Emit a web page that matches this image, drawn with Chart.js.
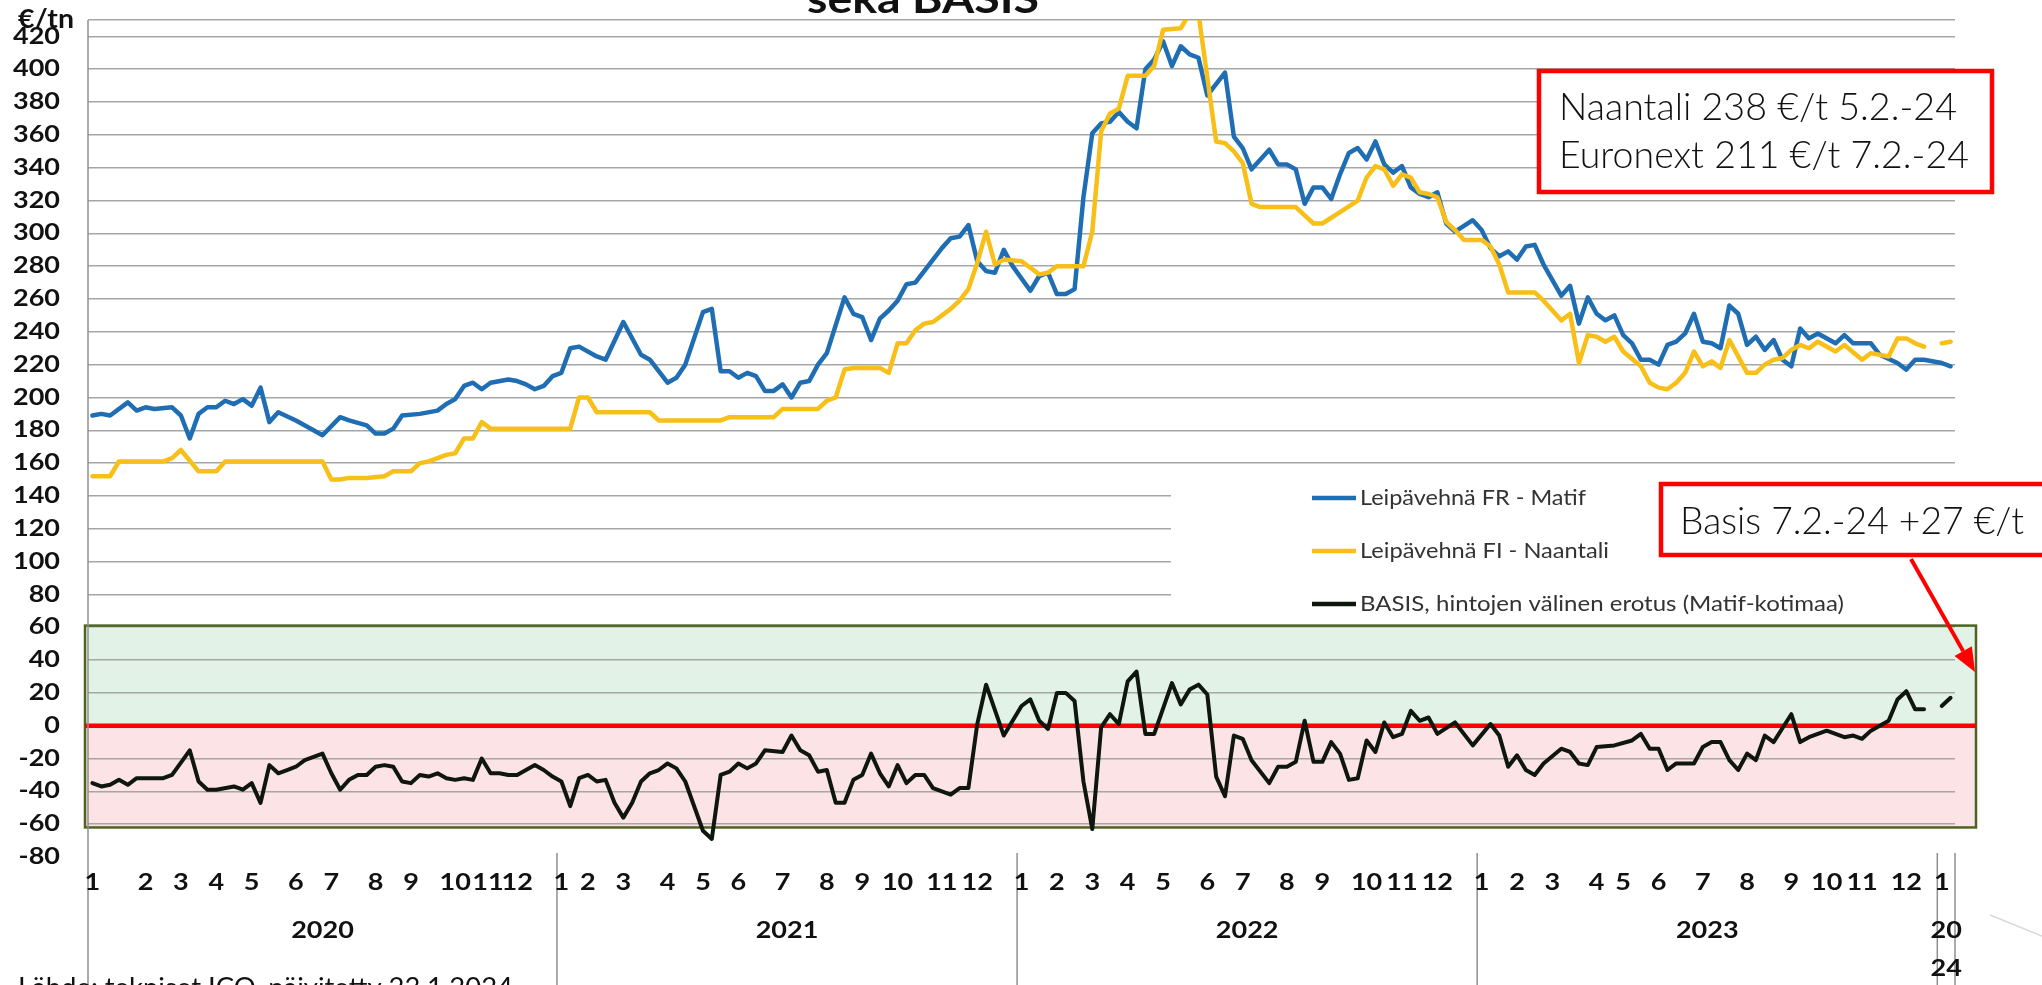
<!DOCTYPE html>
<html lang="fi">
<head>
<meta charset="utf-8">
<title>seka BASIS</title>
<script src="https://cdn.jsdelivr.net/npm/chart.js@4.4.1/dist/chart.umd.min.js"></script>
<style>
    html, body {
        margin: 0;
        padding: 0;
        background: #ffffff;
        overflow: hidden;
    }

    canvas {
        display: block;
    }
</style>
</head>
<body>
<canvas id="basis-chart" width="2042" height="985"></canvas>
<script>
// =========================================================
// DATA (week index 0 = first week of 2020)
// =========================================================

const matifWeeks = [
    0, 1, 2, 4, 5, 6, 7, 9, 10, 11,
    12, 13, 14, 15, 16, 17, 18, 19, 20, 21,
    23, 26, 28, 29, 31, 32, 33, 34, 35, 37,
    39, 40, 41, 42, 43, 44, 45, 47, 48, 49,
    50, 51, 52, 53, 54, 55, 57, 58, 60, 62,
    63, 65, 66, 67, 69, 70, 71, 72, 73, 74,
    75, 76, 77, 78, 79, 80, 81, 82, 83, 85,
    86, 87, 88, 89, 90, 91, 92, 93, 94, 95,
    96, 97, 98, 99, 100, 101, 102, 103, 104, 106,
    107, 108, 109, 110, 111, 112, 113, 114, 115, 116,
    117, 118, 119, 120, 121, 122, 123, 124, 125, 126,
    128, 129, 130, 131, 133, 134, 135, 136, 137, 138,
    139, 140, 141, 142, 143, 144, 145, 146, 147, 148,
    149, 150, 151, 152, 153, 154, 156, 157, 158, 159,
    160, 161, 162, 163, 164, 166, 167, 168, 169, 170,
    171, 172, 173, 174, 175, 176, 177, 178, 179, 180,
    181, 182, 183, 184, 185, 186, 187, 188, 189, 190,
    191, 192, 193, 194, 195, 197, 198, 199, 201, 202,
    204, 205, 206, 207, 209, 210
];

const matifPrices = [
    189, 190, 189, 197, 192, 194, 193, 194, 189, 175,
    190, 194, 194, 198, 196, 199, 195, 206, 185, 191,
    186, 177, 188, 186, 183, 178, 178, 181, 189, 190,
    192, 196, 199, 207, 209, 205, 209, 211, 210, 208,
    205, 207, 213, 215, 230, 231, 225, 223, 246, 226,
    223, 209, 212, 220, 252, 254, 216, 216, 212, 215,
    213, 204, 204, 208, 200, 209, 210, 220, 227, 261,
    251, 249, 235, 248, 253, 259, 269, 270, 277, 284,
    291, 297, 298, 305, 283, 277, 276, 290, 280, 265,
    274, 276, 263, 263, 266, 322, 361, 367, 368, 374,
    368, 364, 400, 406, 417, 402, 414, 409, 407, 384,
    398, 359, 352, 339, 351, 342, 342, 339, 318, 328,
    328, 321, 336, 349, 352, 345, 356, 342, 337, 341,
    328, 324, 322, 325, 306, 301, 308, 302, 291, 286,
    289, 284, 292, 293, 281, 262, 268, 245, 261, 251,
    247, 250, 238, 233, 223, 223, 220, 232, 234, 239,
    251, 234, 233, 230, 256, 251, 232, 237, 229, 235,
    223, 219, 242, 236, 239, 233, 238, 233, 233, 226,
    221, 217, 223, 223, 221, 219
];

const naantaliWeeks = [
    0, 2, 3, 8, 9, 10, 12, 14, 15, 26,
    27, 28, 29, 31, 33, 34, 36, 37, 38, 40,
    41, 42, 43, 44, 45, 54, 55, 56, 57, 63,
    64, 71, 72, 77, 78, 82, 83, 84, 85, 86,
    89, 90, 91, 92, 93, 94, 95, 97, 98, 99,
    100, 101, 102, 103, 105, 106, 107, 108, 109, 112,
    113, 114, 115, 116, 117, 119, 120, 121, 123, 124,
    125, 127, 128, 129, 130, 131, 132, 136, 137, 138,
    139, 141, 143, 144, 145, 146, 147, 148, 149, 150,
    151, 152, 153, 154, 155, 157, 158, 159, 160, 163,
    164, 166, 167, 168, 169, 170, 171, 172, 173, 175,
    176, 177, 178, 179, 180, 181, 182, 183, 184, 185,
    186, 187, 188, 189, 190, 191, 192, 193, 194, 195,
    197, 198, 200, 201, 203, 204, 205, 206, 207, 208,
    209, 210
];

const naantaliPrices = [
    152, 152, 161, 161, 163, 168, 155, 155, 161, 161,
    150, 150, 151, 151, 152, 155, 155, 160, 161, 165,
    166, 175, 175, 185, 181, 181, 200, 200, 191, 191,
    186, 186, 188, 188, 193, 193, 198, 200, 217, 218,
    218, 215, 233, 233, 241, 245, 246, 254, 259, 266,
    282, 301, 281, 284, 283, 279, 275, 276, 280, 280,
    301, 362, 373, 376, 396, 396, 402, 424, 425, 434,
    434, 356, 355, 350, 343, 318, 316, 316, 311, 306,
    306, 313, 320, 334, 341, 339, 329, 336, 334, 325,
    324, 322, 307, 302, 296, 296, 292, 281, 264, 264,
    259, 247, 251, 221, 238, 237, 234, 237, 228, 219,
    209, 206, 205, 209, 215, 228, 219, 222, 218, 235,
    225, 215, 215, 220, 223, 224, 229, 232, 230, 234,
    228, 232, 223, 227, 225, 236, 236, 233, 231, null,
    233, 234
];

const basisWeeks = [
    0, 1, 2, 3, 4, 5, 8, 9, 11, 12,
    13, 14, 16, 17, 18, 19, 20, 21, 22, 23,
    24, 26, 27, 28, 29, 30, 31, 32, 33, 34,
    35, 36, 37, 38, 39, 40, 41, 42, 43, 44,
    45, 46, 47, 48, 50, 51, 52, 53, 54, 55,
    56, 57, 58, 59, 60, 61, 62, 63, 64, 65,
    66, 67, 69, 70, 71, 72, 73, 74, 75, 76,
    78, 79, 80, 81, 82, 83, 84, 85, 86, 87,
    88, 89, 90, 91, 92, 93, 94, 95, 97, 98,
    99, 100, 101, 103, 104, 105, 106, 107, 108, 109,
    110, 111, 112, 113, 114, 115, 116, 117, 118, 119,
    120, 122, 123, 124, 125, 126, 127, 128, 129, 130,
    131, 133, 134, 135, 136, 137, 138, 139, 140, 141,
    142, 143, 144, 145, 146, 147, 148, 149, 150, 151,
    152, 154, 156, 158, 159, 160, 161, 162, 163, 164,
    166, 167, 168, 169, 170, 172, 174, 175, 176, 177,
    178, 179, 181, 182, 183, 184, 185, 186, 187, 188,
    189, 190, 192, 193, 194, 196, 198, 199, 200, 201,
    203, 204, 205, 206, 207, 208, 209, 210
];

const basisValues = [
    -35, -37, -36, -33, -36, -32, -32, -30, -15, -34,
    -39, -39, -37, -39, -35, -47, -24, -29, -27, -25,
    -21, -17, -29, -39, -33, -30, -30, -25, -24, -25,
    -34, -35, -30, -31, -29, -32, -33, -32, -33, -20,
    -29, -29, -30, -30, -24, -27, -31, -34, -49, -32,
    -30, -34, -33, -47, -56, -47, -34, -29, -27, -23,
    -26, -34, -64, -69, -30, -28, -23, -26, -23, -15,
    -16, -6, -15, -18, -28, -27, -47, -47, -33, -30,
    -17, -29, -37, -24, -35, -30, -30, -38, -42, -38,
    -38, 1, 25, -6, 3, 12, 16, 3, -2, 20,
    20, 15, -34, -63, -1, 7, 1, 27, 33, -5,
    -5, 26, 13, 22, 25, 19, -31, -43, -6, -8,
    -21, -35, -25, -25, -22, 3, -22, -22, -10, -17,
    -33, -32, -9, -16, 2, -7, -5, 9, 3, 5,
    -5, 2, -12, 1, -6, -25, -18, -27, -30, -23,
    -14, -16, -23, -24, -13, -12, -9, -5, -14, -14,
    -27, -23, -23, -13, -10, -10, -21, -27, -17, -21,
    -6, -10, 7, -10, -7, -3, -7, -6, -8, -3,
    3, 16, 21, 10, 10, null, 12, 17
];

const priceTicks = [
    -80, -60, -40, -20, 0, 20, 40, 60, 80, 100, 120, 140, 160, 180, 200,
    220, 240, 260, 280, 300, 320, 340, 360, 380, 400, 420
];

const monthLabels = [
    "1", "2", "3", "4", "5", "6", "7", "8", "9", "10", "11", "12",
    "1", "2", "3", "4", "5", "6", "7", "8", "9", "10", "11", "12",
    "1", "2", "3", "4", "5", "6", "7", "8", "9", "10", "11", "12",
    "1", "2", "3", "4", "5", "6", "7", "8", "9", "10", "11", "12",
    "1"
];

const monthLabelWeeks = [
    0, 6, 10, 14, 18, 23, 27, 32, 36, 41, 44.7, 48,
    53, 56, 60, 65, 69, 73, 78, 83, 87, 91, 96, 100,
    105, 109, 113, 117, 121, 126, 130, 135, 139, 144, 148, 152,
    157, 161, 165, 170, 173, 177, 182, 187, 192, 196, 200, 205,
    209
];

const yearLabels = ["2020", "2021", "2022", "2023", "2024"];
const yearBoundaries = [-0.5, 52.5, 104.5, 156.5, 208.5, 210.5];

const seriesNames = [
    "Leipävehnä FR - Matif",
    "Leipävehnä FI - Naantali",
    "BASIS, hintojen välinen erotus (Matif-kotimaa)"
];

const seriesColors = ["#1f6db3", "#f7bf17", "#0e160e"];

const basisBandTop = 61;
const basisBandBottom = -62;

// =========================================================
// HELPERS
// =========================================================

function toPoints(weeks, values) {
    const points = [];

    for (let index = 0; index < weeks.length; index++) {
        points.push({ x: weeks[index], y: values[index] });
    }

    return points;
}

function drawStretched(ctx, text, x, y, stretch, align) {
    const width = ctx.measureText(text).width * stretch;
    let left = x;

    if (align === "right") {
        left = x - width;
    } else if (align === "center") {
        left = x - width / 2;
    }

    ctx.save();
    ctx.translate(left, y);
    ctx.scale(stretch, 1);
    ctx.textAlign = "left";
    ctx.fillText(text, 0, 0);
    ctx.restore();
}

function drawFitted(ctx, text, x, y, width) {
    const stretch = width / ctx.measureText(text).width;
    drawStretched(ctx, text, x, y, stretch, "left");
}

function drawLine(ctx, x1, y1, x2, y2, color, width) {
    ctx.save();
    ctx.strokeStyle = color;
    ctx.lineWidth = width;
    ctx.beginPath();
    ctx.moveTo(x1, y1);
    ctx.lineTo(x2, y2);
    ctx.stroke();
    ctx.restore();
}

function drawArrow(ctx, x1, y1, x2, y2) {
    const angle = Math.atan2(y2 - y1, x2 - x1);
    const headLength = 24;
    const headWidth = 10;

    const baseX = x2 - Math.cos(angle) * headLength;
    const baseY = y2 - Math.sin(angle) * headLength;

    drawLine(ctx, x1, y1, baseX, baseY, "#ff0000", 4);

    ctx.save();
    ctx.fillStyle = "#ff0000";
    ctx.beginPath();
    ctx.moveTo(x2, y2);
    ctx.lineTo(baseX + Math.sin(angle) * headWidth, baseY - Math.cos(angle) * headWidth);
    ctx.lineTo(baseX - Math.sin(angle) * headWidth, baseY + Math.cos(angle) * headWidth);
    ctx.closePath();
    ctx.fill();
    ctx.restore();
}

function drawNoteBox(ctx, left, top, right, bottom) {
    ctx.save();
    ctx.fillStyle = "#ffffff";
    ctx.fillRect(left, top, right - left, bottom - top);
    ctx.strokeStyle = "#ff0000";
    ctx.lineWidth = 4.5;
    ctx.strokeRect(left, top, right - left, bottom - top);
    ctx.restore();
}

// =========================================================
// DECORATION PLUGIN
// =========================================================

const basisDecorations = {
    id: "basisDecorations",

    beforeDraw(chart) {
        const ctx = chart.ctx;
        const area = chart.chartArea;
        const y = chart.scales.y;

        ctx.save();
        ctx.fillStyle = "#ffffff";
        ctx.fillRect(0, 0, chart.width, chart.height);

        const bandLeft = area.left - 3;
        const bandRight = area.right + 21;
        const zeroY = y.getPixelForValue(0);

        ctx.fillStyle = "#e3f2e6";
        ctx.fillRect(bandLeft, y.getPixelForValue(basisBandTop), bandRight - bandLeft, zeroY - y.getPixelForValue(basisBandTop));

        ctx.fillStyle = "#fce3e6";
        ctx.fillRect(bandLeft, zeroY, bandRight - bandLeft, y.getPixelForValue(basisBandBottom) - zeroY);
        ctx.restore();
    },

    beforeDatasetsDraw(chart) {
        const ctx = chart.ctx;
        const area = chart.chartArea;
        const y = chart.scales.y;

        // legend sits on a white box that hides the grid lines
        ctx.save();
        ctx.fillStyle = "#ffffff";
        ctx.fillRect(1171, 468, 800, 154);
        ctx.restore();

        const legendRows = [498, 551, 604];
        const legendWidths = [226, 249, 484];

        ctx.save();
        ctx.font = "22px Lato";
        ctx.textBaseline = "middle";
        ctx.fillStyle = "#333333";

        for (let index = 0; index < seriesNames.length; index++) {
            drawLine(ctx, 1312, legendRows[index], 1356, legendRows[index], seriesColors[index], 4.5);
            drawFitted(ctx, seriesNames[index], 1360, legendRows[index], legendWidths[index]);
        }

        ctx.restore();

        // band frame and zero line
        const bandLeft = area.left - 3;
        const bandRight = area.right + 21;
        const bandTopY = y.getPixelForValue(basisBandTop);
        const bandBottomY = y.getPixelForValue(basisBandBottom);

        ctx.save();
        ctx.strokeStyle = "#4c6322";
        ctx.lineWidth = 2.5;
        ctx.strokeRect(bandLeft, bandTopY, bandRight - bandLeft, bandBottomY - bandTopY);
        ctx.restore();

        const zeroY = y.getPixelForValue(0);
        drawLine(ctx, bandLeft, zeroY, bandRight, zeroY, "#ff0000", 4.5);
    },

    afterDraw(chart) {
        const ctx = chart.ctx;
        const area = chart.chartArea;
        const x = chart.scales.x;
        const y = chart.scales.y;

        // axis line on the left and year separators below the plot
        drawLine(ctx, area.left, area.top, area.left, chart.height, "#8f8f8f", 1.5);

        for (let index = 1; index < yearBoundaries.length; index++) {
            const boundaryX = x.getPixelForValue(yearBoundaries[index]);
            drawLine(ctx, boundaryX, area.bottom - 4, boundaryX, chart.height, "#8f8f8f", 1.5);
        }

        ctx.save();
        ctx.fillStyle = "#111111";
        ctx.textBaseline = "middle";
        ctx.font = "bold 22px Lato";

        const stretch = 47 / ctx.measureText("400").width;

        // value axis
        for (let index = 0; index < priceTicks.length; index++) {
            const value = priceTicks[index];
            drawStretched(ctx, String(value), 60, y.getPixelForValue(value), stretch, "right");
        }

        // months
        for (let index = 0; index < monthLabels.length; index++) {
            drawStretched(ctx, monthLabels[index], x.getPixelForValue(monthLabelWeeks[index]), 883, stretch, "center");
        }

        // years
        for (let index = 0; index < yearLabels.length; index++) {
            const left = x.getPixelForValue(yearBoundaries[index]);
            const right = x.getPixelForValue(yearBoundaries[index + 1]);
            const center = (left + right) / 2;
            const label = yearLabels[index];

            if (ctx.measureText(label).width * stretch > right - left) {
                drawStretched(ctx, label.slice(0, 2), center, 931, stretch, "center");
                drawStretched(ctx, label.slice(2), center, 969, stretch, "center");
            } else {
                drawStretched(ctx, label, center, 931, stretch, "center");
            }
        }

        ctx.restore();

        // unit and title
        ctx.save();
        ctx.fillStyle = "#111111";
        ctx.textBaseline = "alphabetic";
        ctx.font = "bold 26px Lato";
        drawFitted(ctx, "€/tn", 18, 28, 56);

        ctx.font = "bold 40px Lato";
        drawFitted(ctx, "seka BASIS", 807, 13, 232);

        ctx.font = "26px Lato";
        drawFitted(ctx, "Lähde: tekniset ICO, päivitetty 23.1.2024", 18, 997, 495);
        ctx.restore();

        // notes
        drawNoteBox(ctx, 1539, 71, 1992, 192);
        drawNoteBox(ctx, 1661, 484, 2060, 555);

        ctx.save();
        ctx.fillStyle = "#111111";
        ctx.textBaseline = "alphabetic";
        ctx.font = "300 38px Lato";
        drawFitted(ctx, "Naantali 238 €/t 5.2.-24", 1559, 120, 398);
        drawFitted(ctx, "Euronext 211 €/t 7.2.-24", 1559, 168, 410);
        drawFitted(ctx, "Basis 7.2.-24 +27 €/t", 1680, 534, 344);
        ctx.restore();

        drawArrow(ctx, 1911, 559, 1975, 672);

        drawLine(ctx, 1990, 915, 2042, 936, "#d9d9d9", 1.5);
    }
};

// =========================================================
// CHART
// =========================================================

function createBasisChart() {
    const canvas = document.getElementById("basis-chart");

    return new Chart(canvas, {
        type: "line",
        data: {
            datasets: [
                {
                    label: seriesNames[0],
                    data: toPoints(matifWeeks, matifPrices),
                    borderColor: seriesColors[0],
                    borderWidth: 4.5,
                    order: 3
                },
                {
                    label: seriesNames[1],
                    data: toPoints(naantaliWeeks, naantaliPrices),
                    borderColor: seriesColors[1],
                    borderWidth: 4.5,
                    order: 2
                },
                {
                    label: seriesNames[2],
                    data: toPoints(basisWeeks, basisValues),
                    borderColor: seriesColors[2],
                    borderWidth: 4,
                    order: 1
                }
            ]
        },
        options: {
            responsive: false,
            devicePixelRatio: 1,
            animation: false,
            spanGaps: false,
            layout: {
                padding: {
                    left: 88,
                    right: 87,
                    top: 20,
                    bottom: 128
                }
            },
            elements: {
                point: {
                    radius: 0,
                    hoverRadius: 0
                },
                line: {
                    tension: 0,
                    fill: false,
                    borderJoinStyle: "round",
                    borderCapStyle: "round"
                }
            },
            scales: {
                x: {
                    type: "linear",
                    display: false,
                    min: -0.5,
                    max: 210.5
                },
                y: {
                    type: "linear",
                    min: -80,
                    max: 430,
                    border: {
                        display: false
                    },
                    ticks: {
                        display: false
                    },
                    grid: {
                        drawTicks: false,
                        lineWidth: 1.5,
                        color: function (context) {
                            if (context.tick && context.tick.value === -80) {
                                return "rgba(0, 0, 0, 0)";
                            }
                            return "#a6a6a6";
                        }
                    },
                    afterBuildTicks: function (scale) {
                        scale.ticks = priceTicks.concat([430]).map(value => ({ value: value }));
                    },
                    afterFit: function (scale) {
                        scale.width = 0;
                    }
                }
            },
            plugins: {
                legend: {
                    display: false
                },
                tooltip: {
                    enabled: false
                }
            }
        },
        plugins: [basisDecorations]
    });
}

createBasisChart();
</script>
</body>
</html>
